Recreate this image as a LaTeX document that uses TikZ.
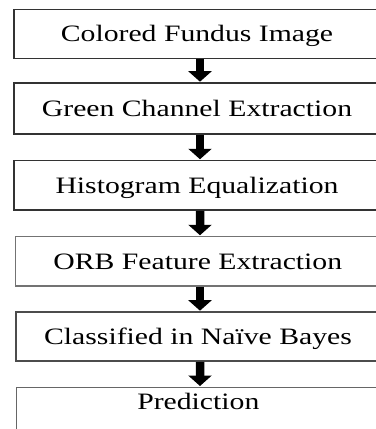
\documentclass[tikz,border=0pt]{standalone}
\usepackage{fontspec}
\setmainfont{Liberation Serif}
\usetikzlibrary{arrows.meta}
\tikzset{
  stepbox/.style={draw=black!80, line width=1.6bp, rectangle, inner sep=0pt,
    text height=15.6bp, text depth=0pt,
    font=\fontsize{23.5bp}{28bp}\selectfont},
  flow/.style={line width=8.5bp, draw=black, -{Triangle[width=23bp,length=10.5bp]}, shorten >=0.5bp}
}
\newcommand{\wide}[1]{\scalebox{1.264}[1]{#1}}
\begin{document}
\begin{tikzpicture}[x=1bp,y=-1bp]
\useasboundingbox (0,0) rectangle (376,429);
\clip (0,0) rectangle (376,429);
\node[stepbox, minimum width=366bp, minimum height=49bp] (b1) at (197,34) {\wide{Colored Fundus Image}};
\node[stepbox, minimum width=366bp, minimum height=51bp] (b2) at (197,108.5) {\wide{Green Channel Extraction}};
\node[stepbox, minimum width=366bp, minimum height=49.5bp] (b3) at (197,185.3) {\wide{Histogram Equalization}};
\node[stepbox, draw=black!55, minimum width=364.5bp, minimum height=49.5bp] (b4) at (197.8,261.3) {\wide{ORB Feature Extraction}};
\node[stepbox, draw=black!70, minimum width=364bp, minimum height=49bp] (b5) at (198,336.5) {\wide{Classified in Naïve Bayes}};
\node[stepbox, draw=black!60, minimum width=363.5bp, minimum height=60bp, text depth=31.6bp] (b6) at (198.3,417.3) {\wide{Prediction}};
\draw[flow] ([xshift=3bp]b1.south) -- ([xshift=3bp]b2.north);
\draw[flow] ([xshift=3bp]b2.south) -- ([xshift=3bp]b3.north);
\draw[flow] ([xshift=3bp]b3.south) -- ([xshift=2.2bp]b4.north);
\draw[flow] ([xshift=2.2bp]b4.south) -- ([xshift=2bp]b5.north);
\draw[flow] ([xshift=2bp]b5.south) -- ([xshift=1.7bp]b6.north);
\end{tikzpicture}
\end{document}
